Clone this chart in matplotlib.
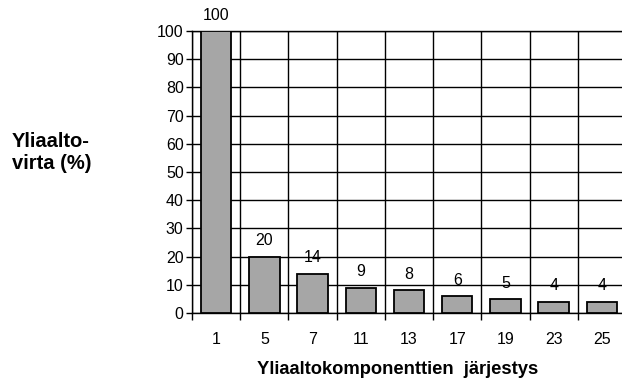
import matplotlib
matplotlib.use("Agg")
import matplotlib.pyplot as plt
import numpy as np

plt.rcParams["font.family"] = ["Liberation Sans", "DejaVu Sans"]

orders = ["1", "5", "7", "11", "13", "17", "19", "23", "25"]
currents = [100, 20, 14, 9, 8, 6, 5, 4, 4]
y_ticks = [0, 10, 20, 30, 40, 50, 60, 70, 80, 90, 100]

fig = plt.figure(figsize=(6.22, 3.81), dpi=100)
ax = fig.add_axes([192 / 622, 1 - 313 / 381, 434 / 622, 282 / 381])

x = np.arange(len(orders))
ax.bar(x, currents, width=0.63, color="#a6a6a6", edgecolor="black",
       linewidth=1.3, zorder=3)
for xi, v in zip(x, currents):
    ax.text(xi, v + 5.6, str(v), ha="center", va="center", fontsize=11.5, zorder=4)

ax.set_xlim(-0.5, len(orders) - 0.5)
ax.set_ylim(0, 100)

ax.set_xticks(x)
ax.set_xticklabels(orders, fontsize=11.5)
ax.set_xticks(np.arange(len(orders) + 1) - 0.5, minor=True)
ax.tick_params(axis="x", which="major", length=0, pad=14)
ax.tick_params(axis="x", which="minor", length=5, width=1, direction="out")
ax.set_yticks(y_ticks)
ax.tick_params(axis="y", length=4, width=1, labelsize=11.5, pad=2)

ax.grid(True, axis="x", which="minor", color="black", linewidth=1, zorder=0)
ax.grid(True, axis="y", which="major", color="black", linewidth=1, zorder=0)
ax.set_axisbelow(True)

ax.spines["right"].set_visible(False)
for side in ["left", "bottom", "top"]:
    ax.spines[side].set_linewidth(1)

fig.text(398 / 622, 1 - 369 / 381, "Yliaaltokomponenttien  järjestys",
         ha="center", va="center", fontsize=13.2, fontweight="bold")
fig.text(12 / 622, 1 - 153 / 381, "Yliaalto-\nvirta (%)", ha="left",
         va="center", fontsize=14.5, fontweight="bold", linespacing=1.2)

fig.savefig("out.png", dpi=100)
